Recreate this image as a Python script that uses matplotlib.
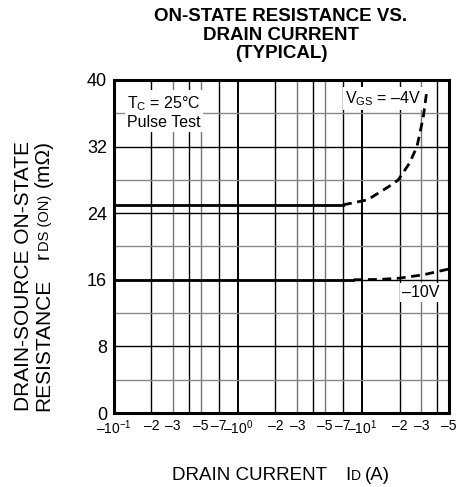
import numpy as np
import matplotlib
matplotlib.use("Agg")
import matplotlib.pyplot as plt

plt.rcParams['font.family'] = ['Liberation Sans', 'DejaVu Sans']
plt.rcParams['mathtext.fontset'] = 'custom'
plt.rcParams['mathtext.rm'] = 'Liberation Sans'
plt.rcParams['mathtext.it'] = 'Liberation Sans'

# drain current (A) and on-state resistance (mOhm)
id_4v_solid = [0.1, 7.0]
r_4v_solid = [25.0, 25.0]
id_4v_dash = [7.0, 11.0, 16.0, 19.5, 24.0, 27.6, 31.0, 33.0]
r_4v_dash = [25.0, 25.6, 27.1, 28.0, 30.0, 32.0, 35.5, 38.5]

id_10v_solid = [0.1, 8.5]
r_10v_solid = [16.0, 16.0]
id_10v_dash = [8.5, 14.0, 20.0, 31.0, 50.0]
r_10v_dash = [16.0, 16.05, 16.2, 16.6, 17.3]

xtick_pos = [0.1, 0.2, 0.3, 0.5, 0.7, 1, 2, 3, 5, 7, 10, 20, 30, 50]
xtick_lab = ['–$\\mathregular{10^{-1}}$', '–2', '–3', '–5', '–7',
             '–$\\mathregular{10^{0}}$', '–2', '–3', '–5', '–7',
             '–$\\mathregular{10^{1}}$', '–2', '–3', '–5']
yticks = [0, 8, 16, 24, 32, 40]

W, H = 458, 487
fig = plt.figure(figsize=(W / 100, H / 100), dpi=100)
ax = fig.add_axes([114 / W, 74 / H, 335 / W, 333 / H])
ax.set_xscale('log')
ax.set_xlim(0.1, 50)
ax.set_ylim(0, 40)

# grid
for dec in [0.1, 1, 10]:
    for m in [1, 2, 3, 4, 5, 7]:
        x = dec * m
        if x <= 0.1 or x >= 50:
            continue
        col = 'black' if m in (1, 2, 4, 7) else '#777777'
        ax.axvline(x, color=col, lw=1.0 if m != 1 else 1.4, zorder=1)
for y in range(4, 40, 4):
    col = 'black' if y % 8 == 0 else '#888888'
    ax.axhline(y, color=col, lw=1.0, zorder=1)

dash = (0, (3.2, 2.0))
ax.plot(id_4v_solid, r_4v_solid, color='black', lw=2.0, zorder=3)
ax.plot(id_4v_dash, r_4v_dash, color='black', lw=2.0, ls=dash, zorder=3)
ax.plot(id_10v_solid, r_10v_solid, color='black', lw=2.0, zorder=3)
ax.plot(id_10v_dash, r_10v_dash, color='black', lw=2.0, ls=dash, zorder=3)

for s in ax.spines.values():
    s.set_linewidth(2.2)
    s.set_zorder(5)

ax.set_xticks(xtick_pos)
ax.set_xticklabels(xtick_lab)
ax.xaxis.set_minor_locator(matplotlib.ticker.NullLocator())
ax.set_yticks(yticks)
ax.tick_params(axis='y', length=0, labelsize=13, pad=5)
ax.tick_params(axis='x', length=0, labelsize=10, pad=4)

box = dict(facecolor='white', edgecolor='none', pad=1.5)
ax.text(0.127, 38.3, 'T$_{\\mathregular{C}}$ = 25°C\nPulse Test', fontsize=11.5,
        va='top', ha='left', bbox=box, zorder=4, linespacing=1.15)
ax.text(7.3, 38.9, 'V$_{\\mathregular{GS}}$ = –4V', fontsize=11.5,
        va='top', ha='left', bbox=box, zorder=4)
ax.text(21, 15.4, '–10V', fontsize=11.5, va='top', ha='left', bbox=box, zorder=4)

fig.text(281 / W, 1 - 35 / H, 'ON-STATE RESISTANCE VS.\nDRAIN CURRENT\n(TYPICAL)',
         ha='center', va='center', fontsize=13.5, fontweight='bold', linespacing=1.12)

renderer = fig.canvas.get_renderer()


def run_h(pieces, x0, y_base):
    # pieces laid left to right on one baseline
    x = x0
    for txt, size, gap in pieces:
        t = fig.text(x / W, 1 - y_base / H, txt, ha='left', va='baseline', fontsize=size)
        x += t.get_window_extent(renderer).width + gap


def run_v(pieces, x_base, y0):
    # pieces rotated 90 degrees, laid bottom to top on one baseline
    y = y0
    for txt, size, gap in pieces:
        t = fig.text(x_base / W, 1 - y / H, txt, rotation=90, rotation_mode='anchor',
                     ha='left', va='baseline', fontsize=size)
        y -= t.get_window_extent(renderer).height + gap


run_h([('DRAIN CURRENT', 13.5, 18), ('I', 13.5, 0.5), ('D', 10, 4), ('(A)', 13.5, 0)], 172, 480)

run_v([('DRAIN-SOURCE ON-STATE', 15, 0)], 29, 411)
run_v([('RESISTANCE', 15, 20), ('r', 15, 0.5), ('DS (ON)', 10.5, 8), ('(mΩ)', 15, 0)], 49, 411)

fig.savefig('out.png', dpi=100)
